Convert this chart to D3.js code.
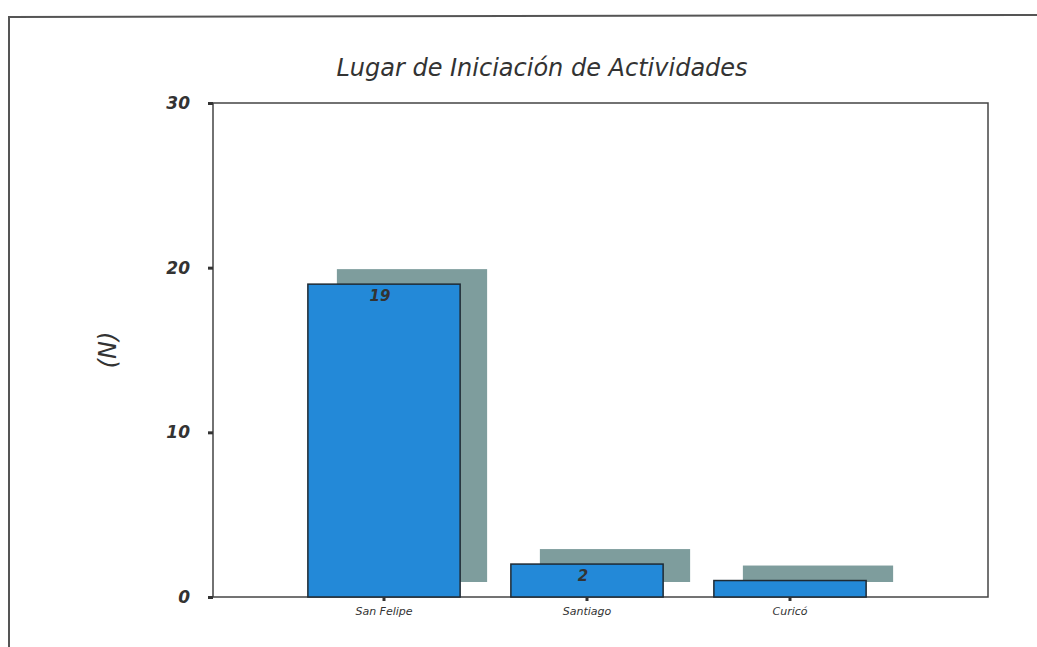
<!DOCTYPE html>
<html>
<head>
<meta charset="utf-8">
<script src="https://cdn.jsdelivr.net/npm/d3@7"></script>
<style>
  html, body { margin: 0; padding: 0; background: #fff; }
  svg { display: block; }
  text { font-family: "DejaVu Sans", "Noto Sans", sans-serif; font-style: italic; fill: #333; }
</style>
</head>
<body>
<svg id="chart" width="1037" height="647"></svg>
<script>
// Data
const categories = ["San Felipe", "Santiago", "Curicó"];
const counts = [19, 2, 1];
const yTicks = [0, 10, 20, 30];
const title = "Lugar de Iniciación de Actividades";
const yLabel = "(N)";

const svg = d3.select("#chart");

// Plot frame geometry
const plot = { left: 213, top: 103, right: 988, bottom: 597 };

const y = d3.scaleLinear().domain([0, 30]).range([plot.bottom, plot.top]);
const x = d3.scaleBand()
  .domain(categories)
  .range([282.5, 891.5])
  .paddingInner(0.25)
  .paddingOuter(0.125);

// Outer page frame
svg.append("path")
  .attr("d", "M9,647 L9,17 L1037,15")
  .attr("fill", "none")
  .attr("stroke", "#555")
  .attr("stroke-width", 2);

// Title
svg.append("text")
  .attr("x", 542).attr("y", 76)
  .attr("text-anchor", "middle")
  .attr("font-size", 24)
  .attr("font-weight", 500)
  .attr("fill", "#2e2e2e")
  .text(title);

// Plot frame
svg.append("rect")
  .attr("x", plot.left).attr("y", plot.top)
  .attr("width", plot.right - plot.left)
  .attr("height", plot.bottom - plot.top)
  .attr("fill", "none")
  .attr("stroke", "#444")
  .attr("stroke-width", 1.5);

// Drop shadows behind bars
const shadowDx = 29, shadowDy = -15;
svg.append("g").selectAll("rect")
  .data(counts)
  .join("rect")
  .attr("x", (d, i) => x(categories[i]) + shadowDx)
  .attr("y", d => y(d) + shadowDy)
  .attr("width", x.bandwidth() - 2)
  .attr("height", d => y(0) - y(d))
  .attr("fill", "#7e9d9d");

// Bars
svg.append("g").selectAll("rect")
  .data(counts)
  .join("rect")
  .attr("x", (d, i) => x(categories[i]))
  .attr("y", d => y(d))
  .attr("width", x.bandwidth())
  .attr("height", d => y(0) - y(d))
  .attr("fill", "#2389d8")
  .attr("stroke", "#1f2a33")
  .attr("stroke-width", 1.5);

// Value labels inside bars
svg.append("g").selectAll("text")
  .data(counts.filter(d => d > 1))
  .join("text")
  .attr("x", (d, i) => x(categories[i]) + x.bandwidth() / 2 - 4)
  .attr("y", d => y(d) + 17)
  .attr("text-anchor", "middle")
  .attr("font-size", 15)
  .attr("font-weight", "bold")
  .attr("fill", "#2b2b3a")
  .text(d => d);

// Y axis
const yAxis = d3.axisLeft(y).tickValues(yTicks).tickSize(5).tickPadding(18);
const gy = svg.append("g").attr("transform", `translate(${plot.left},0)`).call(yAxis);
gy.select(".domain").remove();
gy.selectAll(".tick line").attr("stroke", "#333").attr("stroke-width", 3);
gy.selectAll(".tick text")
  .attr("font-size", 17)
  .attr("font-weight", "bold")
  .attr("font-style", "italic")
  .attr("font-family", "'DejaVu Sans', sans-serif")
  .attr("fill", "#333");

// X axis
const xAxis = d3.axisBottom(x).tickSize(4).tickPadding(6);
const gx = svg.append("g").attr("transform", `translate(0,${plot.bottom})`).call(xAxis);
gx.select(".domain").remove();
gx.selectAll(".tick line").attr("stroke", "#333").attr("stroke-width", 3);
gx.selectAll(".tick text")
  .attr("font-size", 11)
  .attr("font-style", "italic")
  .attr("font-family", "'DejaVu Sans', sans-serif")
  .attr("fill", "#333");

// Y axis label
svg.append("text")
  .attr("transform", "translate(116,350) rotate(-90)")
  .attr("text-anchor", "middle")
  .attr("font-size", 24)
  .attr("fill", "#444")
  .text(yLabel);
</script>
</body>
</html>
